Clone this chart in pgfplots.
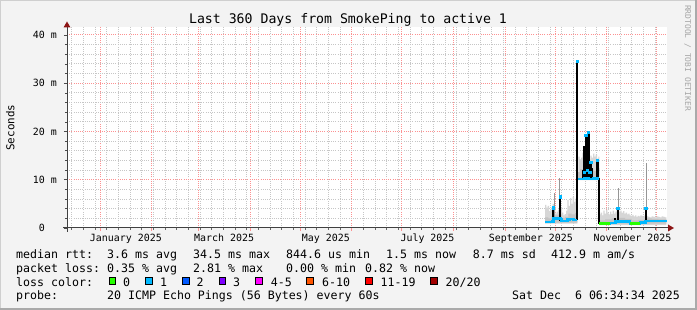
\documentclass[border=0pt]{standalone}
\usepackage{pgfplots}
\pgfplotsset{compat=1.18}
\usepackage{pgfplotstable}
\usepackage{fontspec}
\setmainfont{DejaVu Sans Mono}
\definecolor{bg}{RGB}{243,243,243}
\definecolor{shadea}{RGB}{207,207,207}
\definecolor{shadeb}{RGB}{170,170,170}
\definecolor{mgrid}{RGB}{252,145,145}
\definecolor{mingrid}{RGB}{198,198,198}
\definecolor{arrowc}{RGB}{140,20,20}
\definecolor{loss0}{RGB}{38,255,0}
\definecolor{loss1}{RGB}{0,184,255}
\definecolor{loss2}{RGB}{0,89,255}
\definecolor{loss3}{RGB}{126,0,255}
\definecolor{loss4}{RGB}{255,0,255}
\definecolor{loss6}{RGB}{255,85,0}
\definecolor{loss11}{RGB}{255,0,0}
\definecolor{loss20}{RGB}{161,0,0}
\definecolor{smoke}{RGB}{214,214,214}
\definecolor{smokemid}{RGB}{195,195,195}
\definecolor{smokedark}{RGB}{150,150,150}
\newcommand\titlefont{\fontsize{13.2bp}{15bp}\selectfont}
\newcommand\axisfont{\fontsize{9.95bp}{12bp}\selectfont}
\newcommand\legfont{\fontsize{11.6bp}{14bp}\selectfont}
\newcommand\unitfont{\fontsize{10.9bp}{13bp}\selectfont}
\newcommand\wmfont{\fontsize{8bp}{10bp}\selectfont}

% median rtt (ms), day offsets from 1 Jan 2025
\pgfplotstableread{
d v
267.0 1.2
271.6 1.3
272.2 2.1
273.4 2.0
275.6 2.0
276.4 1.9
277.0 1.5
280.4 1.8
282.0 1.9
284.0 1.7
286.4 1.7
}\medA
\pgfplotstableread{
d v
286.6 10.2
290.4 10.3
293.0 10.2
296.0 10.3
299.6 10.3
}\medB
\pgfplotstableread{
d v
299.6 0.9
306.0 1.0
309.4 1.45
310.6 1.3
318.0 0.9
324.0 1.1
327.4 1.5
340.2 1.5
}\medC
\pgfplotstableread{
d v
299.6 0.9
306.0 0.9
}\greenA
\pgfplotstableread{
d v
318.0 0.9
324.0 0.9
}\greenB
% smoke envelope: upper edge left to right, then lower edge right to left
\pgfplotstableread{
d v
267.0 4.8
267.8 4.2
268.6 4.6
269.4 3.5
270.2 3.8
271.0 4.4
271.6 5.0
272.4 4.6
273.2 3.0
274.0 3.4
274.8 3.8
275.6 6.0
276.4 4.2
277.2 3.2
278.0 2.6
278.8 2.9
279.6 3.6
280.4 5.8
281.2 4.6
282.0 6.2
282.8 5.0
283.6 6.4
284.4 5.4
285.2 6.1
286.0 4.8
286.4 10.5
287.0 14.8
287.8 14.2
288.6 14.6
289.4 15.6
290.2 14.0
291.0 15.5
291.8 14.6
292.6 15.2
293.4 14.2
294.2 15.0
295.0 14.6
295.8 15.4
296.6 14.8
297.4 15.2
298.2 14.4
299.0 14.8
299.6 2.8
300.4 3.2
301.2 2.6
302.0 3.6
302.8 3.0
303.6 3.8
304.4 3.2
305.2 2.8
306.0 3.4
306.8 2.9
307.6 3.6
308.4 3.0
309.2 3.4
310.0 3.8
310.6 4.0
311.4 3.4
312.2 3.6
313.0 3.2
313.8 3.5
314.6 3.0
315.4 3.2
316.2 2.8
317.0 3.0
317.8 2.6
318.6 2.5
319.4 2.7
320.2 2.4
321.0 2.6
321.8 2.3
322.6 2.5
323.4 2.4
324.2 2.6
325.0 2.5
325.8 2.3
326.6 2.6
327.4 2.8
328.2 2.4
329.0 2.3
330.0 2.2
331.0 2.4
332.0 2.3
333.0 2.2
334.0 2.4
335.0 2.3
336.0 2.2
337.0 2.4
338.0 2.3
339.0 2.2
339.8 2.3
339.8 0.6
299.6 0.6
299.6 9.9
286.4 9.9
286.4 0.9
267.0 0.9
}\smoke
% denser smoke close to the median
\pgfplotstableread{
d v
267.0 2.2
269.0 2.0
271.0 2.4
273.0 2.6
275.0 2.8
277.0 2.1
279.0 2.3
281.0 3.0
283.0 2.8
285.0 3.1
286.4 11.6
288.0 12.2
290.0 12.0
292.0 12.6
294.0 12.2
296.0 11.8
298.0 12.4
299.6 1.6
303.0 1.8
307.0 2.0
311.0 2.1
315.0 1.9
319.0 1.6
323.0 1.7
327.0 2.0
331.0 1.9
335.0 1.8
339.8 1.9
339.8 0.9
299.6 0.9
299.6 10.0
286.4 10.0
286.4 1.1
267.0 1.1
}\smokein
% black bars
\pgfplotstableread{
d v
271.8 1.3
271.8 4.4
nan nan
275.9 1.5
275.9 6.5
nan nan
286.4 1.7
286.4 34.6
nan nan
289.6 10.2
289.6 12.0
nan nan
290.6 10.2
290.6 16.9
nan nan
291.4 10.2
291.4 19.3
nan nan
292.2 10.2
292.2 17.5
nan nan
293.0 10.2
293.0 20.0
nan nan
293.6 10.2
293.6 19.6
nan nan
294.4 10.2
294.4 13.7
nan nan
295.0 10.2
295.0 12.5
nan nan
298.0 10.2
298.0 14.1
nan nan
298.8 10.2
298.8 14.1
nan nan
299.6 0.9
299.6 10.3
nan nan
309.0 1.0
309.0 2.1
nan nan
310.6 1.3
310.6 4.4
nan nan
327.4 1.1
327.4 4.1
}\blackbars
% grey single-interval smoke lines
\pgfplotstableread{
d v
272.4 1.3
272.4 7.2
nan nan
275.5 1.5
275.5 10.3
nan nan
311.0 1.3
311.0 8.3
nan nan
327.8 1.3
327.8 13.4
}\greybars
% median points at spike tops
\pgfplotstableread{
d v
271.8 4.2
275.9 6.5
286.4 34.6
290.6 11.5
291.4 19.3
292.2 12.0
293.0 19.8
293.8 11.5
294.4 13.7
298.4 14.1
310.6 4.1
327.4 4.1
}\tops

\begin{document}
\begin{tikzpicture}
\fill[bg] (0,0) rectangle (697bp,310bp);
\begin{scope}[x=1bp,y=-1bp,shift={(0,310bp)}]
  \draw[shadea, line width=1.5bp] (0.75,310) -- (0.75,0.75) -- (697,0.75);
  \draw[shadeb, line width=2bp] (0,309) -- (696,309) -- (696,0);
\end{scope}
\begin{axis}[
  at={(67bp,82bp)}, anchor=south west,
  scale only axis, width=600bp, height=200.5bp,
  xmin=-19.8, xmax=340.2, ymin=0, ymax=41.55,
  axis background/.style={fill=white},
  axis line style={draw=none},
  xtick pos=bottom, ytick pos=left,
  xtick={0,31,59,90,120,151,181,212,243,273,304,334},
  xticklabels={},
  minor xtick={-17,-10,...,333},
  extra x ticks={15.5,74.5,135.5,196.5,258.5,319.5},
  extra x tick labels={January 2025,March 2025,May 2025,July 2025,September 2025,November 2025},
  extra x tick style={grid=none, major tick length=0pt,
    xticklabel style={anchor=base, yshift=-13.7bp, inner sep=0pt}},
  ytick={0,10,20,30,40},
  yticklabels={0\hphantom{mm},10 m,20 m,30 m,40 m},
  yticklabel style={anchor=base east, inner sep=0pt, xshift=-7bp, yshift=-3.6bp},
  minor ytick={2,4,6,8,12,14,16,18,22,24,26,28,32,34,36,38},
  ticklabel style={font=\axisfont},
  grid=both,
  minor grid style={draw=mingrid, line width=0.9bp, dash pattern=on 1bp off 1.2bp},
  major grid style={draw=mgrid, line width=1bp, dash pattern=on 1bp off 1.2bp},
  major tick length=3bp, minor tick length=2bp,
  tick align=outside,
  major x tick style={draw=mgrid, line width=0.8bp},
  minor x tick style={draw=black!60, line width=0.6bp},
  ytick style={draw=black!70, line width=0.6bp},
]
\addplot[fill=smoke, draw=none, const plot, forget plot] table[x=d,y=v]{\smoke};
\addplot[fill=smokemid, draw=none, const plot, forget plot] table[x=d,y=v]{\smokein};
\addplot[smokedark, line width=1bp, unbounded coords=jump, forget plot] table[x=d,y=v]{\greybars};
\addplot[black, line width=1.7bp, unbounded coords=jump, forget plot] table[x=d,y=v]{\blackbars};
\addplot[loss1, line width=2.5bp, const plot, forget plot] table[x=d,y=v]{\medA};
\addplot[loss1, line width=2.5bp, const plot, forget plot] table[x=d,y=v]{\medB};
\addplot[loss1, line width=2.5bp, const plot, forget plot] table[x=d,y=v]{\medC};
\addplot[loss0, line width=2.5bp, const plot, forget plot] table[x=d,y=v]{\greenA};
\addplot[loss0, line width=2.5bp, const plot, forget plot] table[x=d,y=v]{\greenB};
\addplot[only marks, mark=square*, mark size=1.1bp, loss1, mark options={draw=none}, forget plot] table[x=d,y=v]{\tops};
\end{axis}
\begin{scope}[x=1bp,y=-1bp,shift={(0,310bp)}]
  % axes
  \draw[black!75, line width=1bp] (63,228) -- (668,228);
  \draw[black!75, line width=1bp] (67,232) -- (67,27);
  \fill[arrowc] (668,224.5) -- (674,228) -- (668,231.5) -- cycle;
  \fill[arrowc] (63.5,27.5) -- (67,21.5) -- (70.5,27.5) -- cycle;
  % title and labels
  \node[anchor=base, inner sep=0pt, font=\titlefont] at (348,24) {Last 360 Days from SmokePing to active 1};
  \node[rotate=90, anchor=base, inner sep=0pt, font=\unitfont] at (14.3,127.7) {Seconds};
  \node[rotate=-90, anchor=base, inner sep=0pt, font=\wmfont, text=black!35] at (685,58) {RRDTOOL / TOBI OETIKER};
  % legend lines
  \begin{scope}[every node/.style={anchor=base west, inner sep=0pt, font=\legfont}]
    \node at (16,258.3) {median rtt:};
    \node at (107,258.3) {3.6 ms avg};
    \node at (193,258.3) {34.5 ms max};
    \node at (286,258.3) {844.6 us min};
    \node at (386,258.3) {1.5 ms now};
    \node at (472.7,258.3) {8.7 ms sd};
    \node at (551,258.3) {412.9 m am/s};
    \node at (16,272.4) {packet loss:};
    \node at (107,272.4) {0.35 \% avg};
    \node at (193,272.4) {2.81 \% max};
    \node at (286,272.4) {0.00 \% min};
    \node at (365,272.4) {0.82 \% now};
    \node at (16,286.2) {loss color:};
    \node at (123,286.2) {0};
    \node at (160,286.2) {1};
    \node at (196.5,286.2) {2};
    \node at (233,286.2) {3};
    \node at (270.7,286.2) {4-5};
    \node at (322,286.2) {6-10};
    \node at (380.5,286.2) {11-19};
    \node at (445.5,286.2) {20/20};
    \node at (16,300) {probe:};
    \node at (107,300) {20 ICMP Echo Pings (56 Bytes) every 60s};
    \node[anchor=base east] at (680,300) {Sat Dec\ \ 6 06:34:34 2025};
  \end{scope}
  % loss colour boxes
  \foreach \xx/\cc in {109/loss0,145.7/loss1,182.3/loss2,219/loss3,255.7/loss4,306.8/loss6,365.5/loss11,430.7/loss20}{
    \filldraw[fill=\cc, draw=black, line width=0.8bp] (\xx,277.8) rectangle ++(6.6,6.6);
  }
\end{scope}
\pgfresetboundingbox
\path[use as bounding box] (0,0) rectangle (697bp,310bp);
\end{tikzpicture}
\end{document}
